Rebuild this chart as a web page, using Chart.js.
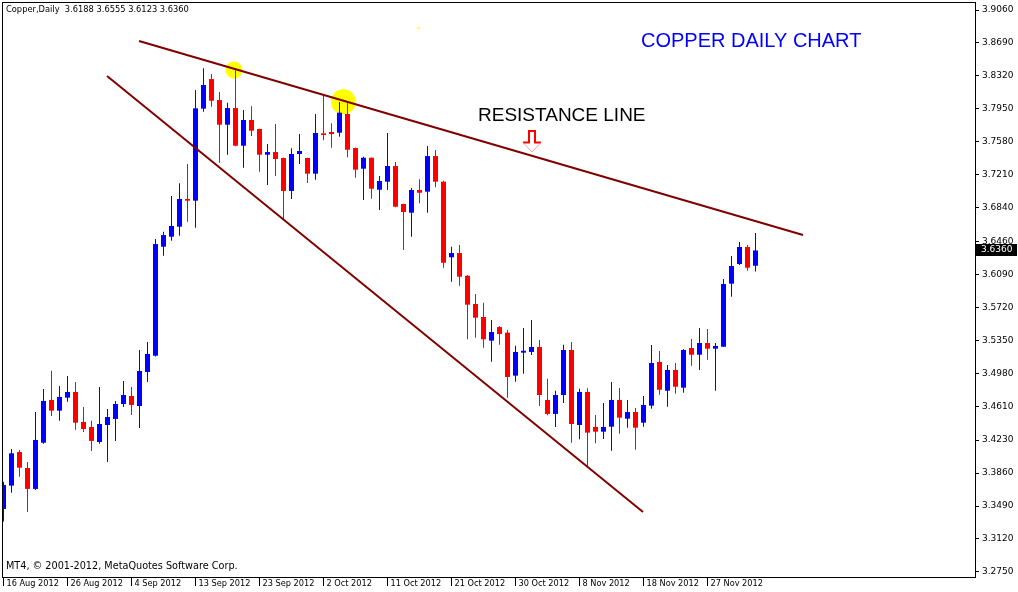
<!DOCTYPE html>
<html>
<head>
<meta charset="utf-8">
<title>Copper Daily</title>
<script src="https://cdn.jsdelivr.net/npm/chart.js@4.4.1/dist/chart.umd.min.js"></script>
<style>
  body { margin: 0; background: #fff; }
  canvas { display: block; }
</style>
</head>
<body>
<canvas id="chart" width="1018" height="592"></canvas>
<script>
// Copper daily bars, 16 Aug 2012 .. 4 Dec 2012
const opens = [
  3.3457, 3.3719, 3.4097, 3.3917, 3.3682, 3.4201, 3.4681, 3.4561, 3.4707, 3.4771,
  3.4434, 3.4378, 3.4209, 3.4400, 3.4468, 3.4636, 3.4726, 3.4613, 3.4995, 3.5178,
  3.6402, 3.6514, 3.6627, 3.6938, 3.6919, 3.7952, 3.8285, 3.8049, 3.7772, 3.7959,
  3.7536, 3.7825, 3.7724, 3.7435, 3.7465, 3.7398, 3.7028, 3.7443, 3.7398, 3.7222,
  3.7675, 3.7690, 3.7682, 3.7892, 3.7510, 3.7278, 3.7401, 3.7042, 3.7132, 3.7308,
  3.6882, 3.6784, 3.7039, 3.7020, 3.7420, 3.7132, 3.6283, 3.6331, 3.6076, 3.5759,
  3.5613, 3.5347, 3.5500, 3.5437, 3.4954, 3.5212, 3.5220, 3.5276, 3.4681, 3.4524,
  3.4737, 3.5242, 3.4400, 3.4771, 3.4378, 3.4325, 3.4381, 3.4681, 3.4471, 3.4546,
  3.4426, 3.4617, 3.5108, 3.4785, 3.5018, 3.4819, 3.5265, 3.5189, 3.5321, 3.5257,
  3.5279, 3.5987, 3.6208, 3.6399, 3.6188
];
const highs = [
  3.3764, 3.4131, 3.4120, 3.3985, 3.4546, 3.4804, 3.5010, 3.4838, 3.4950, 3.4883,
  3.4602, 3.4448, 3.4827, 3.4580, 3.4670, 3.4894, 3.4827, 3.5242, 3.5332, 3.6489,
  3.6571, 3.6971, 3.7114, 3.7331, 3.8162, 3.8405, 3.8341, 3.8139, 3.8019, 3.8386,
  3.7937, 3.7980, 3.7727, 3.7555, 3.7780, 3.7405, 3.7507, 3.7667, 3.7400, 3.7892,
  3.8113, 3.7788, 3.8027, 3.8012, 3.7515, 3.7413, 3.7405, 3.7196, 3.7679, 3.7353,
  3.6885, 3.7061, 3.7159, 3.7533, 3.7488, 3.7143, 3.6402, 3.6421, 3.6084, 3.5871,
  3.5773, 3.5579, 3.5512, 3.5467, 3.5291, 3.5489, 3.5579, 3.5355, 3.4920, 3.4785,
  3.5302, 3.5332, 3.4808, 3.4812, 3.4512, 3.4647, 3.4883, 3.4816, 3.4681, 3.4591,
  3.4726, 3.5298, 3.5231, 3.5074, 3.5096, 3.5253, 3.5366, 3.5489, 3.5478, 3.5321,
  3.6039, 3.6298, 3.6455, 3.6421, 3.6555
];
const lows = [
  3.3315, 3.3640, 3.3820, 3.3423, 3.3670, 3.4190, 3.4501, 3.4448, 3.4662, 3.4347,
  3.4322, 3.4108, 3.4190, 3.3985, 3.4221, 3.4602, 3.4512, 3.4366, 3.4883, 3.5170,
  3.6301, 3.6469, 3.6526, 3.6683, 3.6615, 3.7918, 3.7974, 3.7345, 3.7435, 3.7530,
  3.7289, 3.7645, 3.7244, 3.7095, 3.7196, 3.6702, 3.6938, 3.7331, 3.7117, 3.7154,
  3.7597, 3.7514, 3.7637, 3.7406, 3.7177, 3.6926, 3.6941, 3.6814, 3.7039, 3.6845,
  3.6365, 3.6514, 3.6889, 3.6784, 3.7069, 3.6166, 3.6009, 3.5964, 3.5362, 3.5380,
  3.5268, 3.5111, 3.5302, 3.4707, 3.4886, 3.4976, 3.5186, 3.4613, 3.4509, 3.4378,
  3.4647, 3.4201, 3.4240, 3.3940, 3.4195, 3.4243, 3.4112, 3.4302, 3.4370, 3.4123,
  3.4381, 3.4583, 3.4740, 3.4606, 3.4752, 3.4763, 3.5066, 3.5018, 3.5133, 3.4785,
  3.5275, 3.5841, 3.6197, 3.6133, 3.6123
];
const closes = [
  3.3727, 3.4082, 3.3921, 3.3682, 3.4232, 3.4670, 3.4561, 3.4715, 3.4771, 3.4426,
  3.4355, 3.4221, 3.4411, 3.4490, 3.4636, 3.4737, 3.4625, 3.5006, 3.5197, 3.6432,
  3.6533, 3.6635, 3.6938, 3.6919, 3.7956, 3.8218, 3.8041, 3.7772, 3.7959, 3.7536,
  3.7825, 3.7705, 3.7435, 3.7465, 3.7387, 3.7028, 3.7443, 3.7477, 3.7222, 3.7679,
  3.7656, 3.7667, 3.7907, 3.7491, 3.7267, 3.7401, 3.7053, 3.7140, 3.7308, 3.6851,
  3.6792, 3.7039, 3.7008, 3.7420, 3.7132, 3.6222, 3.6331, 3.6065, 3.5751, 3.5605,
  3.5362, 3.5444, 3.5422, 3.4939, 3.5220, 3.5234, 3.5276, 3.4737, 3.4524, 3.4737,
  3.5242, 3.4411, 3.4771, 3.4314, 3.4325, 3.4378, 3.4681, 3.4482, 3.4546, 3.4370,
  3.4625, 3.5096, 3.4796, 3.5018, 3.4830, 3.5242, 3.5189, 3.5321, 3.5257, 3.5287,
  3.5983, 3.6185, 3.6399, 3.6166, 3.6360
];

// time axis labels, one every 8 bars
const dateLabels = [
  "16 Aug 2012", "26 Aug 2012", "4 Sep 2012", "13 Sep 2012", "23 Sep 2012", "2 Oct 2012",
  "11 Oct 2012", "21 Oct 2012", "30 Oct 2012", "8 Nov 2012", "18 Nov 2012", "27 Nov 2012"
];
const priceTicks = [
  3.9060, 3.8690, 3.8320, 3.7950, 3.7580, 3.7210, 3.6840, 3.6460, 3.6090,
  3.5720, 3.5350, 3.4980, 3.4610, 3.4230, 3.3860, 3.3490, 3.3120, 3.2750
];

// hand drawn objects, as [bar, price]
const resistanceLine = [[16.94, 3.8712], [99.94, 3.6534]];
const supportLine = [[12.94, 3.8319], [79.94, 3.3424]];
const highlightBars = [28.81, 42.48, 51.81];
const highlightPrices = [3.8386, 3.8030, 3.8858];
const arrowBar = 66.06;
const arrowTop = 3.7701;
const arrowTip = 3.7466;

const BULL = "#0000ff";
const BEAR = "#ff0000";
const last = closes.length - 1;

const barColors = closes.map((c, i) => (c >= opens[i] ? BULL : BEAR));
const wicks = highs.map((h, i) => ({ x: i, y: [lows[i], h] }));
const bodies = opens.map((o, i) => ({ x: i, y: [o, closes[i]] }));
const toPoints = (pts) => pts.map((p) => ({ x: p[0], y: p[1] }));
const highlights = highlightBars.map((b, i) => ({ x: b, y: highlightPrices[i] }));

Chart.defaults.font.family = "'DejaVu Sans', sans-serif";
Chart.defaults.color = "#000";

// no extra room round the axes, the plot sits right against them
function noPadding(s) {
  s.paddingLeft = 0;
  s.paddingRight = 0;
  s.paddingTop = 0;
  s.paddingBottom = 0;
}

const overlay = {
  id: "overlay",
  afterDraw(chart) {
    const { ctx, chartArea: a } = chart;
    const x = chart.scales.x;
    const y = chart.scales.y;
    ctx.save();

    // frame round the plot
    ctx.strokeStyle = "#000";
    ctx.lineWidth = 1;
    ctx.strokeRect(a.left + 0.5, a.top + 0.5, a.right - a.left, a.bottom - a.top);

    // header and copyright
    ctx.fillStyle = "#000";
    ctx.textBaseline = "middle";
    ctx.font = "8.3px 'DejaVu Sans'";
    const ohlc = [opens[last], highs[last], lows[last], closes[last]].map((v) => v.toFixed(4));
    ctx.fillText("Copper,Daily  " + ohlc.join(" "), 6, 10);
    ctx.font = "9.7px 'DejaVu Sans'";
    ctx.fillText("MT4, \u00a9 2001-2012, MetaQuotes Software Corp.", 6, 566);

    // labels
    ctx.textBaseline = "alphabetic";
    ctx.font = "20px 'Liberation Sans'";
    ctx.fillStyle = "#0000ff";
    ctx.fillText("COPPER DAILY CHART", 641, 47);
    ctx.font = "19px 'Liberation Sans'";
    ctx.fillStyle = "#000";
    ctx.fillText("RESISTANCE LINE", 478, 121);

    // down arrow
    const ax = Math.round(x.getPixelForValue(arrowBar));
    const at = y.getPixelForValue(arrowTop);
    const tip = y.getPixelForValue(arrowTip);
    const neck = at + (tip - at) * 0.55;
    ctx.strokeStyle = "#ff0000";
    ctx.lineWidth = 2;
    ctx.beginPath();
    ctx.moveTo(ax - 9, neck);
    ctx.lineTo(ax - 3, neck);
    ctx.lineTo(ax - 3, at);
    ctx.lineTo(ax + 3, at);
    ctx.lineTo(ax + 3, neck);
    ctx.lineTo(ax + 9, neck);
    ctx.stroke();
    ctx.strokeStyle = "#ff9c9c";
    ctx.lineWidth = 1;
    ctx.beginPath();
    ctx.moveTo(ax - 9, neck);
    ctx.lineTo(ax, tip);
    ctx.lineTo(ax + 9, neck);
    ctx.stroke();

    // last price tag on the price axis
    const py = Math.round(y.getPixelForValue(closes[last]));
    ctx.fillStyle = "#000";
    ctx.fillRect(a.right + 1, py - 6, 41, 12);
    ctx.fillStyle = "#fff";
    ctx.textBaseline = "middle";
    ctx.font = "9px 'DejaVu Sans'";
    ctx.fillText(closes[last].toFixed(4), a.right + 6, py);
    ctx.restore();
  }
};

new Chart(document.getElementById("chart"), {
  type: "bar",
  data: {
    datasets: [
      {
        type: "line",
        data: toPoints(resistanceLine),
        borderColor: "#800000",
        borderWidth: 2,
        pointRadius: 0,
        order: 0
      },
      {
        type: "line",
        data: toPoints(supportLine),
        borderColor: "#800000",
        borderWidth: 2,
        pointRadius: 0,
        order: 0
      },
      {
        data: bodies,
        backgroundColor: barColors,
        grouped: false,
        maxBarThickness: 5,
        minBarLength: 1,
        order: 1
      },
      {
        data: wicks,
        backgroundColor: barColors,
        grouped: false,
        maxBarThickness: 1,
        order: 2
      },
      {
        type: "scatter",
        data: highlights,
        pointRadius: [8.5, 12.5, 1],
        pointBackgroundColor: "#ffff00",
        pointBorderWidth: 0,
        order: 3
      }
    ]
  },
  options: {
    responsive: false,
    animation: false,
    events: [],
    layout: { autoPadding: false, padding: { left: 2, top: 2, right: 0, bottom: 0 } },
    plugins: {
      legend: { display: false },
      tooltip: { enabled: false }
    },
    scales: {
      x: {
        type: "linear",
        offset: false,
        min: -0.1875,
        max: 121.4375,
        afterBuildTicks: (s) => { s.ticks = dateLabels.map((d, k) => ({ value: k * 8 })); },
        afterFit: (s) => { s.height = 15; noPadding(s); },
        border: { display: false },
        grid: { drawOnChartArea: false, offset: false, tickLength: 9, color: "#000" },
        ticks: {
          autoSkip: false,
          maxRotation: 0,
          align: "start",
          labelOffset: 3,
          padding: -7,
          font: { size: 8.2 },
          callback: (v, i) => dateLabels[i]
        }
      },
      y: {
        position: "right",
        min: 3.2693,
        max: 3.9150,
        afterBuildTicks: (s) => { s.ticks = priceTicks.map((v) => ({ value: v })); },
        afterFit: (s) => { s.width = 43; noPadding(s); },
        border: { display: false },
        grid: { drawOnChartArea: false, tickLength: 4, color: "#000" },
        ticks: {
          autoSkip: false,
          padding: 3,
          font: { size: 9 },
          callback: (v) => Number(v).toFixed(4)
        }
      }
    }
  },
  plugins: [overlay]
});
</script>
</body>
</html>
